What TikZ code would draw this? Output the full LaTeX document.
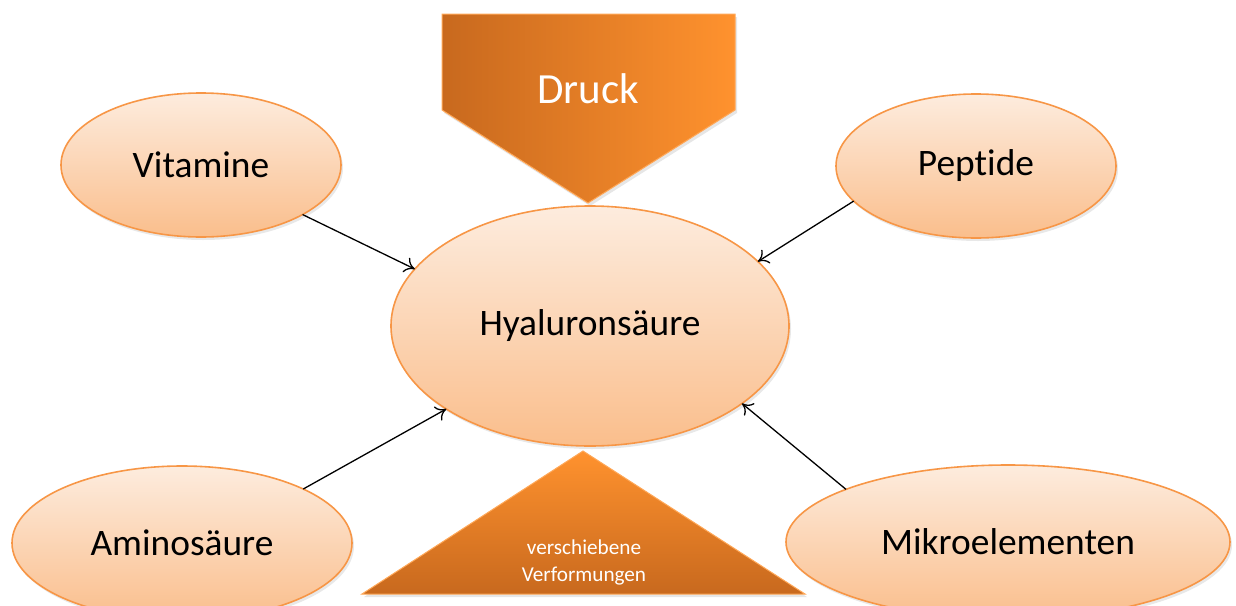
\documentclass[tikz,border=0pt]{standalone}
\usepackage{fontspec}
\setmainfont[Ligatures=NoCommon]{Carlito}
\usetikzlibrary{shapes.geometric,shadows,arrows.meta}
\definecolor{elltop}{RGB}{253,236,222}
\definecolor{ellbot}{RGB}{250,190,140}
\definecolor{ellline}{RGB}{247,150,70}
\definecolor{darkor}{RGB}{200,105,30}
\definecolor{brightor}{RGB}{255,146,46}
\tikzset{
  bubble/.style={ellipse, draw=ellline, line width=0.8pt, top color=elltop, bottom color=ellbot,
     inner sep=0pt, outer sep=0pt, font=\fontsize{18.7}{21}\selectfont,
     drop shadow={opacity=0.18, shadow xshift=1pt, shadow yshift=-1.5pt}},
  link/.style={draw=black, line width=0.65pt, -{To[length=5pt,width=8pt]}},
}
\begin{document}
\begin{tikzpicture}[x=0.5pt,y=-0.5pt]
\useasboundingbox (0,0) rectangle (1236,605);
\clip (0,0) rectangle (1236,605);
% Druck pentagon
\shade[left color=darkor, right color=brightor, draw=brightor!80!white, line width=0.5pt,
  drop shadow={opacity=0.2, shadow xshift=1pt, shadow yshift=-1.5pt}]
  (442,14) -- (735,14) -- (735,110) -- (588,203) -- (442,110) -- cycle;
\node[text=white, font=\fontsize{21.5}{24}\selectfont] (druck) at (588,89) {Druck};
% bottom triangle
\shade[top color=brightor, bottom color=darkor, draw=brightor!80!white, line width=0.5pt,
  drop shadow={opacity=0.2, shadow xshift=1pt, shadow yshift=-1.5pt}]
  (583,451) -- (805,594) -- (362,594) -- cycle;
\node[text=white, font=\fontsize{10.6}{13.5}\selectfont, align=center] (verf) at (584,562) {verschiebene\\Verformungen};
% ellipses
\node[bubble, minimum width=199pt, minimum height=120pt] (hya) at (590,326) {Hyaluronsäure};
\node[bubble, minimum width=140pt, minimum height=72pt] (vit) at (201,165) {Vitamine};
\node[bubble, minimum width=140pt, minimum height=72pt] (pep) at (976,166) {Peptide};
\node[bubble, minimum width=170pt, minimum height=77pt] (ami) at (182,543) {Aminosäure};
\node[bubble, minimum width=222pt, minimum height=77pt] (mik) at (1008,542) {Mikroelementen};
% connectors
\draw[link] (vit.-26) -- (hya.162);
\draw[link] (pep.-164.5) -- (hya.21.8);
\draw[link] (ami.24.6) -- (hya.210.9);
\draw[link] (mik.162.4) -- (hya.-27);
\end{tikzpicture}
\end{document}
